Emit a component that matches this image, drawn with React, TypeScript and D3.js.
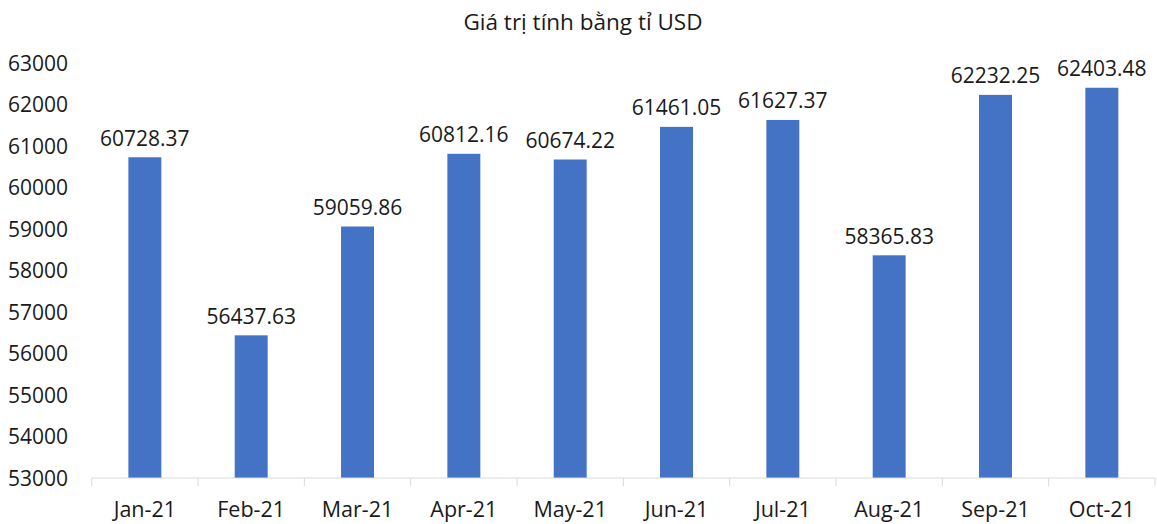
import React from "react";
import * as d3 from "d3";

const categories = ["Jan-21", "Feb-21", "Mar-21", "Apr-21", "May-21", "Jun-21", "Jul-21", "Aug-21", "Sep-21", "Oct-21"];
const values = [60728.37, 56437.63, 59059.86, 60812.16, 60674.22, 61461.05, 61627.37, 58365.83, 62232.25, 62403.48];
const yTicks = [53000, 54000, 55000, 56000, 57000, 58000, 59000, 60000, 61000, 62000, 63000];
const title = "Giá trị tính bằng tỉ USD";

const W = 1157, H = 524;
const left = 91.7, right = 1155, top = 63, bottom = 478;
const font = "'Open Sans', 'Noto Sans', sans-serif";

export default function App() {
  const x = d3.scaleBand<string>().domain(categories).range([left, right]).paddingInner(0.69).paddingOuter(0.345);
  const y = d3.scaleLinear().domain([53000, 63000]).range([bottom, top]);
  const bandStep = (right - left) / categories.length;
  return (
    <svg width={W} height={H} style={{ position: "absolute", left: 0, top: 0, background: "#fff" }}>
      <text x={583} y={30} textAnchor="middle" fontFamily={font} fontSize={22.5} fill="#1a1a1a">{title}</text>
      {yTicks.map((t) => (
        <text key={t} x={68} y={y(t)} dy="0.36em" textAnchor="end" fontFamily={font} fontSize={21} fill="#1a1a1a">{t}</text>
      ))}
      {categories.map((c, i) => (
        <rect key={c} x={x(c)} y={y(values[i])} width={x.bandwidth()} height={bottom - y(values[i])} fill="#4472C4" />
      ))}
      {categories.map((c, i) => (
        <text key={"l" + c} x={(x(c) as number) + x.bandwidth() / 2} y={y(values[i]) - 11.5} textAnchor="middle" fontFamily={font} fontSize={21} fill="#1a1a1a">{values[i].toFixed(2)}</text>
      ))}
      <line x1={left} x2={right} y1={bottom} y2={bottom} stroke="#d9d9d9" strokeWidth={1} />
      {d3.range(categories.length + 1).map((i) => (
        <line key={"t" + i} x1={left + i * bandStep} x2={left + i * bandStep} y1={bottom} y2={bottom + 8} stroke="#d9d9d9" strokeWidth={1} />
      ))}
      {categories.map((c) => (
        <text key={"c" + c} x={(x(c) as number) + x.bandwidth() / 2} y={517} textAnchor="middle" fontFamily={font} fontSize={21.5} fill="#1a1a1a">{c}</text>
      ))}
    </svg>
  );
}
